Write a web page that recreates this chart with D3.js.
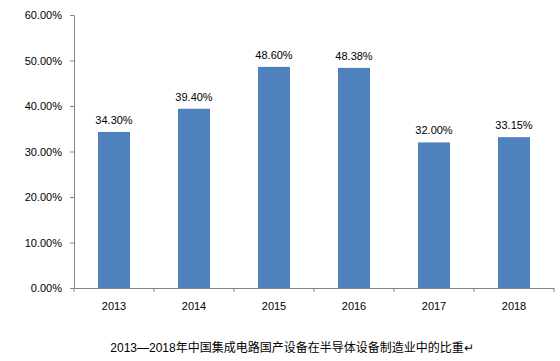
<!DOCTYPE html>
<html><head><meta charset="utf-8">
<script src="https://cdn.jsdelivr.net/npm/d3@7"></script>
<style>body{margin:0;background:#fff;}svg{display:block;}</style>
</head><body><svg id="c" width="560" height="361"></svg>
<script>
const categories = ["2013","2014","2015","2016","2017","2018"];
const values = [34.30, 39.40, 48.60, 48.38, 32.00, 33.15];
const valueLabels = ["34.30%","39.40%","48.60%","48.38%","32.00%","33.15%"];
const yTicks = [0,10,20,30,40,50,60];
const caption = "2013—2018年中国集成电路国产设备在半导体设备制造业中的比重↵";

const svg = d3.select("#c");
const font = "Arial, 'Liberation Sans', 'Noto Sans CJK SC', sans-serif";
const x = d3.scaleBand().domain(categories).range([74,554]).paddingInner(0.6).paddingOuter(0.3);
const y = d3.scaleLinear().domain([0,60]).range([288,15]);
const axisColor = "#868686";

// y axis
const ya = svg.append("g").attr("transform","translate(74,0)")
  .call(d3.axisLeft(y).tickValues(yTicks).tickSize(4).tickFormat(d=>d.toFixed(2)+"%"));
ya.select(".domain").attr("stroke",axisColor);
ya.selectAll(".tick line").attr("stroke",axisColor);
ya.selectAll("text").attr("font-family",font).attr("font-size","11px").attr("fill","#000").attr("x",-12);

// bars
svg.selectAll("rect.bar").data(values).join("rect")
  .attr("x",(d,i)=>x(categories[i])).attr("width",x.bandwidth())
  .attr("y",d=>y(d)).attr("height",d=>y(0)-y(d)).attr("fill","#4F81BD");

// x axis
const xa = svg.append("g").attr("transform","translate(0,288)")
  .call(d3.axisBottom(x).tickSize(0).tickSizeOuter(0));
xa.select(".domain").attr("stroke",axisColor);
xa.selectAll("text").attr("font-family",font).attr("font-size","11px").attr("fill","#000").attr("dy","1.75em");
// category boundary ticks
const bounds = d3.range(categories.length+1).map(i=>74+i*(480/categories.length));
svg.selectAll("line.bt").data(bounds).join("line")
  .attr("x1",d=>d).attr("x2",d=>d).attr("y1",288).attr("y2",292).attr("stroke",axisColor);

// labels
svg.selectAll("text.vl").data(values).join("text")
  .attr("x",(d,i)=>x(categories[i])+x.bandwidth()/2).attr("y",d=>y(d)-8)
  .attr("text-anchor","middle").attr("font-family",font).attr("font-size","11px").attr("fill","#000")
  .text((d,i)=>valueLabels[i]);

svg.append("text").attr("x",292).attr("y",352).attr("text-anchor","middle")
  .attr("font-family",font).attr("font-size","12px").attr("fill","#000").text(caption);
</script></body></html>
